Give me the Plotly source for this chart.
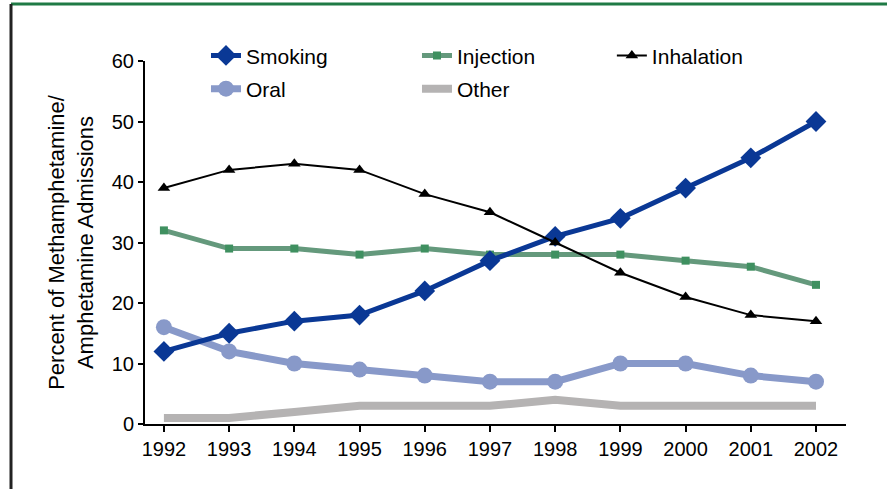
import plotly.graph_objects as go

years = [1992, 1993, 1994, 1995, 1996, 1997, 1998, 1999, 2000, 2001, 2002]
smoking = [12, 15, 17, 18, 22, 27, 31, 34, 39, 44, 50]
injection = [32, 29, 29, 28, 29, 28, 28, 28, 27, 26, 23]
inhalation = [39, 42, 43, 42, 38, 35, 30, 25, 21, 18, 17]
oral = [16, 12, 10, 9, 8, 7, 7, 10, 10, 8, 7]
other = [1, 1, 2, 3, 3, 3, 4, 3, 3, 3, 3]

FONT = "Liberation Sans, Arial, sans-serif"

fig = go.Figure()
fig.add_trace(go.Scatter(x=years, y=other, name="Other", mode="lines",
                         line=dict(color="#b5b3b3", width=8),
                         legend="legend2", legendgroup="o2", legendrank=2))
fig.add_trace(go.Scatter(x=years, y=oral, name="Oral", mode="lines+markers",
                         line=dict(color="#8899c9", width=7),
                         marker=dict(symbol="circle", size=16, color="#8899c9"),
                         legend="legend", legendgroup="o1", legendrank=2))
fig.add_trace(go.Scatter(x=years, y=injection, name="Injection", mode="lines+markers",
                         line=dict(color="#64997c", width=5),
                         marker=dict(symbol="square", size=8, color="#3f9060"),
                         legend="legend2", legendgroup="i2", legendrank=1))
fig.add_trace(go.Scatter(x=years, y=smoking, name="Smoking", mode="lines+markers",
                         line=dict(color="#0a3895", width=5),
                         marker=dict(symbol="diamond", size=16, color="#0a3895"),
                         legend="legend", legendgroup="s1", legendrank=1))
fig.add_trace(go.Scatter(x=years, y=inhalation, name="Inhalation", mode="lines+markers",
                         line=dict(color="#000000", width=2),
                         marker=dict(symbol="triangle-up", size=11, color="#000000"),
                         legend="legend3", legendgroup="h3", legendrank=1))

leg_common = dict(orientation="v", traceorder="grouped", tracegroupgap=3,
                  font=dict(family=FONT, size=21, color="#000"),
                  bgcolor="rgba(0,0,0,0)", xanchor="left", yanchor="top",
                  itemwidth=30)

fig.update_layout(
    width=887, height=489,
    margin=dict(l=145, r=41, t=61, b=65),
    paper_bgcolor="white", plot_bgcolor="white",
    font=dict(family=FONT, size=20, color="#000"),
    legend=dict(x=0.087, y=1.071, **leg_common),
    legend2=dict(x=0.388, y=1.071, **leg_common),
    legend3=dict(x=0.666, y=1.071, **leg_common),
    xaxis=dict(range=[1991.71, 2002.46], tickmode="array", tickvals=years,
               ticktext=[str(y) for y in years], showgrid=False, zeroline=False,
               showline=True, linecolor="#000", linewidth=2,
               ticks="outside", ticklen=6, tickwidth=2, tickcolor="#000",
               tickfont=dict(size=20)),
    yaxis=dict(range=[0, 60], tickvals=[0, 10, 20, 30, 40, 50, 60],
               showgrid=False, zeroline=False,
               showline=True, linecolor="#000", linewidth=2,
               ticks="outside", ticklen=5, tickwidth=2, tickcolor="#000",
               tickfont=dict(size=20),
               title=dict(text="Percent of Methamphetamine/<br>Amphetamine Admissions",
                          font=dict(size=22), standoff=12)),
    shapes=[
        dict(type="line", xref="paper", yref="paper",
             x0=(11 - 145) / 701, x1=(887 - 145) / 701,
             y0=(424 - 4) / 363, y1=(424 - 4) / 363,
             line=dict(color="#1f7a45", width=3)),
        dict(type="line", xref="paper", yref="paper",
             x0=(11 - 145) / 701, x1=(11 - 145) / 701,
             y0=(424 - 4) / 363, y1=(424 - 489) / 363,
             line=dict(color="#222", width=3)),
    ],
)

fig.write_html("out.html",
               config={"displayModeBar": False},
               post_script="document.body.style.margin='0';document.body.style.padding='0';")
